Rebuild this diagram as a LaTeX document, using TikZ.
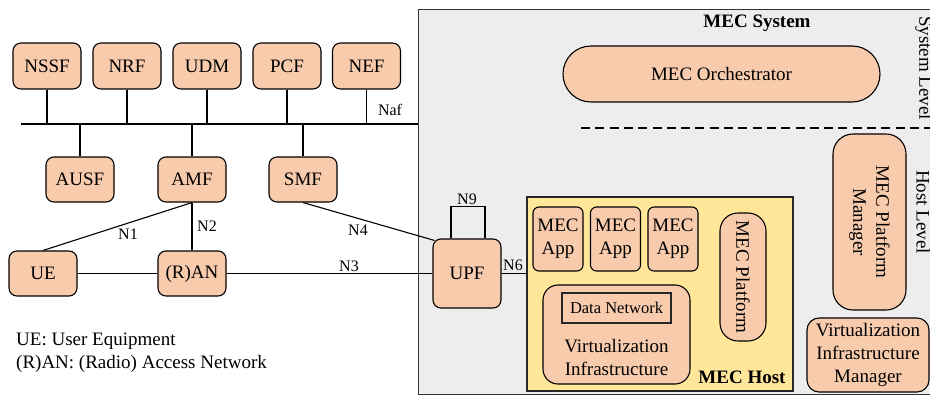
\documentclass[tikz,border=0pt]{standalone}
\usepackage{fontspec}
\setmainfont{Liberation Serif}
\pgfdeclarelayer{back}
\pgfdeclarelayer{lines}
\pgfsetlayers{back,lines,main}
\definecolor{salmon}{HTML}{F8CBAD}
\definecolor{hosty}{HTML}{FFE699}
\definecolor{sysgray}{HTML}{EDEDED}
\tikzset{
  base/.style={font=\fontsize{19}{23}\selectfont, inner sep=0pt, align=center},
  nf/.style={base, draw, fill=salmon, line width=1.1pt, rounded corners=8pt, minimum width=68pt, minimum height=46pt},
  appbox/.style={nf, rounded corners=6pt, minimum width=50pt, minimum height=64pt},
  lbl/.style={font=\fontsize{16}{19}\selectfont, inner sep=0pt},
  conn/.style={line width=1.1pt},
  boldlbl/.style={base, font=\fontsize{19}{23}\selectfont\bfseries},
}
\begin{document}
\begin{tikzpicture}[x=1pt,y=-1pt]
\useasboundingbox (0,0) rectangle (930,397);
\clip (0,0) rectangle (930,397);

% MEC system container
\begin{pgfonlayer}{back}
\node[draw=black!80, fill=sysgray, line width=1.2pt, minimum width=530pt, minimum height=385pt, anchor=north west, inner sep=0pt] (sys) at (418,9) {};
\end{pgfonlayer}
\node[boldlbl] (systitle) at (757,23) {MEC System};

% 5GC upper functions
\node[nf] (nssf) at (47,66) {NSSF};
\node[nf] (nrf) at (127,66) {NRF};
\node[nf] (udm) at (207,66) {UDM};
\node[nf] (pcf) at (287,66) {PCF};
\node[nf] (nef) at (366.5,66) {NEF};

\coordinate (busL) at (21,124);
\coordinate (busR) at (418,124);

\node[nf, minimum height=45pt] (ausf) at (80,179.5) {AUSF};
\node[nf, minimum height=45pt] (amf) at (192,179.5) {AMF};
\node[nf, minimum height=45pt] (smf) at (303,179.5) {SMF};

\node[nf, minimum height=45pt] (ue) at (43,273.5) {UE};
\node[nf, minimum height=45pt] (ran) at (192,273.5) {(R)AN};
\node[nf, minimum height=69pt] (upf) at (467,273.5) {UPF};

% MEC host
\node[draw=black!85, fill=hosty, line width=1.1pt, minimum width=266pt, minimum height=194pt, inner sep=0pt] (host) at (660,294) {};
\node[boldlbl] (hostlbl) at (742,377) {MEC Host};

\node[appbox] (app1) at (558,239) {MEC\\App};
\node[appbox] (app2) at (615.5,239) {MEC\\App};
\node[appbox] (app3) at (673,239) {MEC\\App};

\node[nf, rotate=-90, rounded corners=18pt, minimum width=128pt, minimum height=46pt] (plat) at (743,277) {MEC Platform};

\node[nf, rounded corners=15pt, minimum width=147pt, minimum height=99pt] (vi) at (616.5,334.5) {};
\node[draw=black!85, line width=1.1pt, minimum width=109pt, minimum height=30pt, inner sep=0pt, font=\fontsize{16.5}{19}\selectfont] (dn) at (616.5,308) {Data Network};
\node[base] (vilbl) at (616.5,357) {Virtualization\\Infrastructure};

% MEC system level
\node[nf, rounded corners=27.9pt, minimum width=317pt, minimum height=56pt] (orch) at (721.5,74) {MEC Orchestrator};
\coordinate (dashL) at (581,128);
\coordinate (dashR) at (935,128);
\draw[conn, dash pattern=on 9pt off 5.3pt] (dashL) -- (dashR);

\node[nf, rotate=-90, rounded corners=20pt, minimum width=176pt, minimum height=73pt] (pm) at (869.5,222) {MEC Platform\\Manager};
\node[nf, rounded corners=12pt, minimum width=122pt, minimum height=74pt] (vim) at (868,355) {Virtualization\\Infrastructure\\Manager};

\node[base, rotate=-90] (syslvl) at (924,68) {System Level};
\node[base, rotate=-90] (hostlvl) at (923,212) {Host Level};

% legend
\node[base, anchor=west, align=left] (legend) at (16,352.5) {UE: User Equipment\\(R)AN: (Radio) Access Network};

% connectors
\begin{pgfonlayer}{lines}
\draw[conn] (busL) -- (busR);
\foreach \n in {nssf,nrf,udm,pcf,nef} {\draw[conn] (\n.south) -- (\n.south |- busL);}
\foreach \n in {ausf,amf,smf} {\draw[conn] (\n.north) -- (\n.north |- busL);}
\draw[conn] (amf.south) -- (ue.north);
\draw[conn] (amf.south) -- (ran.north);
\draw[conn] (ue.east) -- (ran.west);
\draw[conn] (ran.east) -- (upf.west);
\draw[conn] (smf.south) -- ([xshift=2pt,yshift=-2pt]upf.north west);
\draw[conn] ([xshift=-16pt]upf.north) -- ++(0,-32) -| ([xshift=18pt]upf.north);
\draw[conn] (upf.east) -- (upf.east -| host.west);
\end{pgfonlayer}

% connector labels
\node[lbl] (l1) at (128,234) {N1};
\node[lbl] (l2) at (207,226) {N2};
\node[lbl] (l3) at (349,266) {N3};
\node[lbl] (l4) at (358,230) {N4};
\node[lbl] (l6) at (513,265) {N6};
\node[lbl] (l9) at (467,199) {N9};
\node[lbl] (laf) at (390,110) {Naf};
\end{tikzpicture}
\end{document}
